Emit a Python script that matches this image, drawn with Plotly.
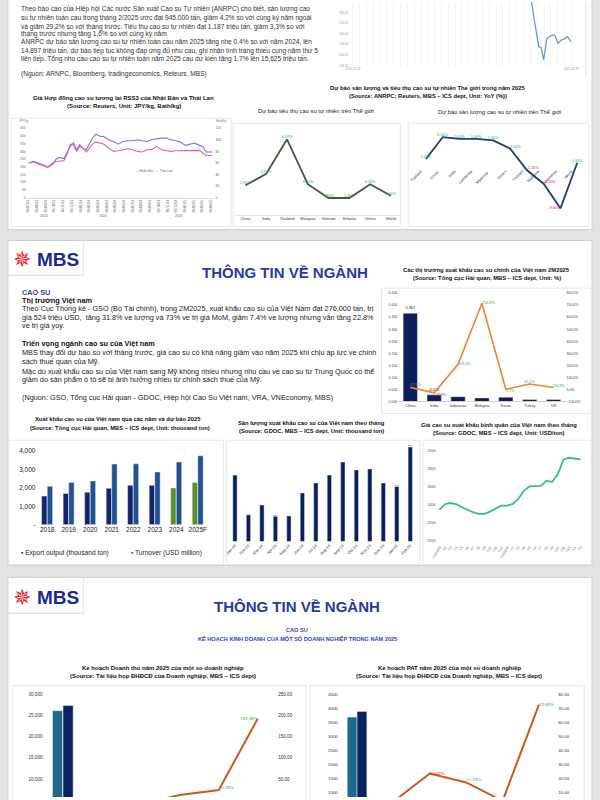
import plotly.graph_objects as go

W, H = 600, 800
FONT = "Liberation Sans, Arial, sans-serif"


def X(px):
    return px / W


def Y(py):
    return 1 - py / H


def dxr(a, b):
    return [max(0.0, X(a)), min(1.0, X(b))]


def dyr(top, bottom):
    return [max(0.0, Y(bottom)), min(1.0, Y(top))]


# ------------------------------------------------------------------ data
# top-right: natural rubber index (only the tail is visible)
idx_dates = ["2020-01-02", "2021-01-25", "2022-02-17", "2023-03-14", "2024-02-27",
             "2024-04-17", "2024-05-13", "2024-05-30", "2024-07-16", "2024-08-06",
             "2024-08-28", "2024-09-26", "2024-11-08", "2024-12-05", "2025-01-03",
             "2025-02-01", "2025-03-01", "2025-03-30", "2025-04-28"]
idx_values = [215, 218, 214, 220, 216, 199, 190, 177.5, 147.8, 146.9,
              135.3, 155.6, 158.8, 158.8, 150.9, 154.0, 155.0, 157.2, 152.5]

# RSS3 futures Japan (JPY/kg) and Thailand (Baht/kg)
rss_dates = ["2023-07-03", "2023-07-20", "2023-08-06", "2023-08-22", "2023-09-08",
             "2023-09-25", "2023-10-06", "2023-10-17", "2023-11-03", "2023-11-14",
             "2023-11-26", "2023-12-07", "2023-12-18", "2023-12-29", "2024-01-09",
             "2024-01-21", "2024-02-01", "2024-02-12", "2024-02-23", "2024-03-11",
             "2024-03-22", "2024-04-08", "2024-04-25", "2024-05-12", "2024-05-28",
             "2024-06-14", "2024-07-01", "2024-07-18", "2024-08-04", "2024-08-20",
             "2024-09-06", "2024-09-23", "2024-10-10", "2024-10-27", "2024-11-12",
             "2024-11-29", "2024-12-16", "2025-01-02", "2025-01-19", "2025-02-04",
             "2025-02-21", "2025-03-04", "2025-03-16", "2025-03-27", "2025-04-07"]
jp_values = [225, 236, 225, 214, 197, 214, 246, 261, 253, 289,
             332, 354, 311, 343, 321, 311, 354, 386, 411, 396,
             396, 375, 364, 347, 364, 369, 369, 375, 369, 364,
             375, 381, 386, 386, 375, 369, 360, 339, 347, 354,
             339, 332, 296, 296, 296]
th_values = [60, 61.7, 58.3, 56, 52.6, 60, 62.9, 62.9, 64, 74.3,
             92.6, 91.4, 80, 88.6, 85.7, 78.9, 86.9, 92.6, 96, 94.3,
             92.6, 85.7, 80, 81.1, 82.9, 84.6, 82.9, 80, 78.9, 82.9,
             82.9, 88.6, 82.9, 81.1, 80, 81.1, 81.1, 81.1, 81.7, 81.1,
             81.7, 77, 73, 73, 73]
rss_years = ["2023", "2024", "2025"]

# world consumption / production forecast 2025 (YoY %)
cons_countries = ["China", "India", "Thailand", "Malaysia", "Vietnam", "Srilanka", "Others", "World"]
cons_values = [2.9, 3.9, 6.9, 3.0, 1.8, 1.8, 3.0, 2.0]
prod_countries = ["Thailand", "China", "India", "Cambodia", "Myanmar", "Others",
                  "Vietnam", "Malaysia", "Indonesia", "World"]
prod_values = [1.2, 6.0, 5.6, 5.6, 5.3, 3.5, -1.2, -4.2, -9.6, 0.4]

# Vietnam export markets 2M2025
mk_names = ["China", "India", "Indonesia", "Malaysia", "Korea", "Turkey", "US"]
mk_share = [0.367, 0.028, 0.020, 0.015, 0.018, 0.008, 0.008]
mk_growth = [17.5, -27.8, 209.0, 716.8, 1.7, 45.2, 16.3]

# Vietnam exports by year
years = ["2018", "2019", "2020", "2021", "2022", "2023", "2024", "2025F"]
export_output = [1560, 1700, 1770, 1980, 2140, 2140, 2000, 2300]
turnover = [2090, 2300, 2380, 3300, 3310, 2870, 3410, 3750]

# monthly exports (thousand ton)
months = ["Jan-24", "Feb-24", "Mar-24", "Apr-24", "May-24", "Jun-24", "Jul-24",
          "Aug-24", "Sep-24", "Oct-24", "Nov-24", "Dec-24", "Jan-25", "Feb-25"]
monthly_exports = [194, 78, 107, 73.6, 75, 142, 171, 194, 232, 209, 212, 171, 160.63, 276]
monthly_labels = ["", "", "", "73.6", "", "", "", "", "", "", "", "", "160.63", "276"]

# average export price (USD/ton)
price_months = ["2023-01", "2023-02", "2023-03", "2023-04", "2023-05", "2023-06", "2023-07",
                "2023-08", "2023-09", "2023-10", "2023-11", "2023-12", "2024-01", "2024-02",
                "2024-03", "2024-04", "2024-05", "2024-06", "2024-07", "2024-08", "2024-09",
                "2024-10", "2024-11", "2024-12", "2025-01", "2025-02"]
price_ticks = ["T1/2023", "T2", "T3", "T4", "T5", "T6", "T7", "T8", "T9", "T10", "T11", "T12",
               "T1/2024", "T2", "T3", "T4", "T5", "T6", "T7", "T8", "T9", "T10", "T11", "T12",
               "T1", "T2"]
price_values = [1343, 1405, 1416, 1405, 1369, 1339, 1314, 1296, 1296, 1321, 1358, 1387, 1387,
                1405, 1460, 1551, 1599, 1599, 1606, 1661, 1650, 1734, 1898, 1916, 1909, 1898]

# business plans 2025
companies = ["GVR", "PHR", "DPR", "TRC", "DRI", "TNC"]
rev_2024 = [26200, 1700, 1300, 480, 620, 80]
rev_2025 = [27400, 1780, 1100, 480, 770, 230]
rev_growth = [-5.0, 4.47, -10.0, 12.0, 23.78, 192.88]
rev_labels = ["", "", "", "", "23.78%", "192.88%"]
pat_2024 = [3700, 450, 300, 150, 60, 40]
pat_2025 = [3900, 470, 370, 175, 62, 69]
pat_growth = [-12.0, 3.5, 23.6, 17.19, 4.0, 72.89]
pat_labels = ["", "", "23.60%", "17.19%", "", "72.89%"]

GREEN_T = "#27b35a"
RED_T = "#e8262b"

fig = go.Figure()

# ---------------------------------------------------------------- traces
fig.add_trace(go.Scatter(x=idx_dates, y=idx_values, mode="lines",
                         line=dict(color="#6b97d6", width=1.3), xaxis="x", yaxis="y"))

fig.add_trace(go.Scatter(x=rss_dates, y=jp_values, mode="lines", name="Nhật Bản",
                         line=dict(color="#7474f2", width=1.1), xaxis="x2", yaxis="y2"))
fig.add_trace(go.Scatter(x=rss_dates, y=th_values, mode="lines", name="Thái Lan",
                         line=dict(color="#ee5d9e", width=1.1), xaxis="x2", yaxis="y3"))

fig.add_trace(go.Scatter(x=cons_countries, y=cons_values, mode="lines+text",
                         text=[f"{v:.2f}%" for v in cons_values], textposition="top center",
                         textfont=dict(size=3.8, color=GREEN_T, family=FONT),
                         line=dict(color="#4b5641", width=1.8), cliponaxis=False,
                         xaxis="x3", yaxis="y4"))

prod_pos = ["top center", "top center", "top center", "top center", "top center",
            "top right", "top right", "top right", "middle left", "top center"]
fig.add_trace(go.Scatter(x=prod_countries, y=prod_values, mode="lines+text",
                         text=[f"{v:.2f}%" for v in prod_values], textposition=prod_pos,
                         textfont=dict(size=3.8, family=FONT,
                                       color=[GREEN_T if v >= 0 else RED_T for v in prod_values]),
                         line=dict(color="#263b7c", width=1.8), cliponaxis=False,
                         xaxis="x4", yaxis="y5"))

fig.add_trace(go.Bar(x=mk_names, y=mk_share, marker_color="#0b1f5c", width=0.6,
                     text=["0.367", "0.028", "", "", "", "", ""], textposition="outside",
                     textfont=dict(size=3.8, color="#222", family=FONT), cliponaxis=False,
                     xaxis="x5", yaxis="y6"))
fig.add_trace(go.Scatter(x=mk_names, y=mk_growth, mode="lines+text",
                         text=[f"{v:.1f}%" for v in mk_growth],
                         textposition=["top right", "bottom right", "middle right", "middle right",
                                       "bottom right", "top center", "top right"],
                         textfont=dict(size=3.8, family=FONT,
                                       color=[GREEN_T if v >= 0 else RED_T for v in mk_growth]),
                         line=dict(color="#f2832f", width=1.6), cliponaxis=False,
                         xaxis="x5", yaxis="y7"))

fig.add_trace(go.Bar(x=years, y=export_output, name="Export output (thousand ton)",
                     marker_color=["#14246a"] * 6 + ["#5b8f2c"] * 2,
                     width=0.25, offset=-0.26, xaxis="x6", yaxis="y8"))
fig.add_trace(go.Bar(x=years, y=turnover, name="Turnover (USD million)",
                     marker_color="#24508f", width=0.25, offset=0.0, xaxis="x6", yaxis="y8"))

fig.add_trace(go.Bar(x=months, y=monthly_exports, marker_color="#0a1f5c", width=0.32,
                     text=monthly_labels, textposition="outside",
                     textfont=dict(size=4.2, color="#333", family=FONT), cliponaxis=False,
                     xaxis="x7", yaxis="y9"))

fig.add_trace(go.Scatter(x=price_months, y=price_values, mode="lines",
                         line=dict(color="#36c07a", width=1.8), xaxis="x8", yaxis="y10"))

fig.add_trace(go.Bar(x=companies, y=rev_2024, marker_color="#1f6a8c", width=0.26, offset=-0.27,
                     xaxis="x9", yaxis="y11"))
fig.add_trace(go.Bar(x=companies, y=rev_2025, marker_color="#0a235f", width=0.26, offset=0.0,
                     xaxis="x9", yaxis="y11"))
fig.add_trace(go.Scatter(x=companies, y=rev_growth, mode="lines+text",
                         text=rev_labels,
                         textposition=["top right", "top right", "top right", "top right",
                                       "top right", "middle left"],
                         textfont=dict(size=4.4, family=FONT, color=GREEN_T),
                         line=dict(color="#c95b1c", width=2), cliponaxis=False,
                         xaxis="x9", yaxis="y12"))

fig.add_trace(go.Bar(x=companies, y=pat_2024, marker_color="#1f6a8c", width=0.27, offset=-0.27,
                     xaxis="x10", yaxis="y13"))
fig.add_trace(go.Bar(x=companies, y=pat_2025, marker_color="#0a235f", width=0.27, offset=0.0,
                     xaxis="x10", yaxis="y13"))
fig.add_trace(go.Scatter(x=companies, y=pat_growth, mode="lines+text",
                         text=pat_labels,
                         textposition=["top right", "top right", "middle right", "top right",
                                       "top right", "middle right"],
                         textfont=dict(size=4.4, family=FONT,
                                       color=[RED_T, GREEN_T, RED_T, GREEN_T, GREEN_T, GREEN_T]),
                         line=dict(color="#c95b1c", width=2), cliponaxis=False,
                         xaxis="x10", yaxis="y14"))

# ---------------------------------------------------------------- axes


def axis(domain, **kw):
    d = dict(domain=domain, showgrid=False, zeroline=False, showline=False, ticks="",
             tickfont=dict(size=4, color="#555", family=FONT), fixedrange=True)
    d.update(kw)
    return d


def tf(s, c="#555"):
    return dict(size=s, color=c, family=FONT)


layout_axes = dict(
    xaxis=axis(dxr(350, 578), anchor="y", type="date", range=["2019-12-01", "2025-05-20"],
               tickvals=["2020-01-02", "2025-04-28"], ticktext=["2020-01-02", "2025-04-28"],
               tickfont=tf(3, "#999"),
               minor=dict(dtick="M2", showgrid=True, gridcolor="#efefef", gridwidth=0.6)),
    yaxis=axis(dyr(0, 64), anchor="x", range=[130, 190], tickvals=[130, 140, 150, 160, 170, 180],
               ticktext=["130.00", "140.00", "150.00", "160.00", "170.00", "180.00"],
               tickfont=tf(3, "#999")),
    xaxis2=axis(dxr(22, 213), anchor="y2", type="date", range=["2023-06-26", "2025-04-14"],
                dtick="M1", tickformat="%d/%m/%y", tickangle=-90, tickfont=tf(3.2, "#666"),
                showline=True, linecolor="#d6d6d6", linewidth=0.8),
    yaxis2=axis(dyr(127, 197), anchor="x2", range=[0, 450], dtick=50, tickfont=tf(3.3, "#666")),
    yaxis3=axis(dyr(127, 197), anchor="x2", overlaying="y2", side="right", range=[0, 120],
                dtick=20, tickfont=tf(3.3, "#666")),
    xaxis3=axis(dxr(234, 403), anchor="y4", type="category", range=[-0.5, 7.5],
                tickfont=tf(3.8, "#333"), showline=True, linecolor="#e6e6e6"),
    yaxis4=axis(dyr(128, 214), anchor="x3", range=[0.35, 7.78], visible=False),
    xaxis4=axis(dxr(419.5, 590.5), anchor="y5", type="category", range=[-0.5, 9.5], visible=False),
    yaxis5=axis(dyr(128, 215), anchor="x4", range=[-11.2, 7.74], visible=False),
    xaxis5=axis(dxr(400, 570), anchor="y6", type="category", range=[-0.5, 6.5],
                tickfont=tf(3.8, "#333"), showline=True, linecolor="#d0d0d0"),
    yaxis6=axis(dyr(293, 402), anchor="x5", range=[0, 0.45], dtick=0.05, tickformat=".3f",
                tickfont=tf(3.5, "#444")),
    yaxis7=axis(dyr(293, 402), anchor="x5", overlaying="y6", side="right", range=[-100, 800],
                dtick=100, tickformat=".1f", ticksuffix="%", tickfont=tf(3.5, "#444")),
    xaxis6=axis(dxr(32, 207), anchor="y8", type="category", range=[-0.5, 7.5],
                tickfont=tf(6.5, "#222")),
    yaxis8=axis(dyr(448, 526), anchor="x6", range=[0, 4216], tickvals=[0, 1000, 2000, 3000, 4000],
                ticktext=["-", "1,000", "2,000", "3,000", "4,000"], tickfont=tf(6.5, "#222")),
    xaxis7=axis(dxr(227, 419), anchor="y9", type="category", range=[-0.5, 13.5], tickangle=-45,
                tickfont=tf(4, "#333")),
    yaxis9=axis(dyr(445, 543), anchor="x7", range=[0, 284], visible=False),
    xaxis8=axis(dxr(439, 588), anchor="y10", type="date", range=["2022-12-17", "2025-02-15"],
                tickvals=price_months, ticktext=price_ticks, tickangle=-60, tickfont=tf(3.6, "#555")),
    yaxis10=axis(dyr(445, 545), anchor="x8", range=[967, 2066],
                 tickvals=[1000, 1200, 1400, 1600, 1800, 2000], tickfont=tf(3.8, "#555")),
    xaxis9=axis(dxr(39.2, 276.8), anchor="y11", type="category", range=[-0.5, 5.5],
                showticklabels=False),
    yaxis11=axis(dyr(690, 800), anchor="x9", range=[5708, 31650],
                 tickvals=[10000, 15000, 20000, 25000, 30000], tickformat=",",
                 tickfont=tf(4.6, "#333")),
    yaxis12=axis(dyr(690, 800), anchor="x9", overlaying="y11", side="right", range=[7.07, 266.5],
                 tickvals=[50, 100, 150, 200, 250], tickformat=".2f", ticksuffix="%",
                 tickfont=tf(4.6, "#333")),
    xaxis10=axis(dxr(339.5, 561.5), anchor="y13", type="category", range=[-0.5, 5.5],
                 showticklabels=False),
    yaxis13=axis(dyr(690, 800), anchor="x10", range=[840, 4749],
                 tickvals=[1000, 1500, 2000, 2500, 3000, 3500, 4000, 4500], tickfont=tf(4.4, "#333")),
    yaxis14=axis(dyr(690, 800), anchor="x10", overlaying="y13", side="right", range=[6.8, 84.97],
                 tickvals=[10, 20, 30, 40, 50, 60, 70, 80], tickformat=".2f", ticksuffix="%",
                 tickfont=tf(4.4, "#333")),
)

# ---------------------------------------------------------------- shapes


def rect(x0, y0, x1, y1, fill="white", line="#dcdcdc", w=1):
    return dict(type="rect", xref="paper", yref="paper", x0=X(x0), x1=X(x1), y0=Y(y1), y1=Y(y0),
                fillcolor=fill, line=dict(color=line, width=w), layer="below")


def seg(x0, y0, x1, y1, color="#d5d5d5", w=1):
    return dict(type="line", xref="paper", yref="paper", x0=X(x0), x1=X(x1), y0=Y(y0), y1=Y(y1),
                line=dict(color=color, width=w), layer="below")


shapes = [
    rect(3, -5, 597, 229, line="#cfcfcf"),
    rect(3, 240, 597, 567, line="#cfcfcf"),
    rect(3, 579, 597, 805, line="#cfcfcf"),
    rect(6, 117, 230, 226, fill="rgba(0,0,0,0)", line="#e8e8e8"),
    rect(232, 122, 402, 226, fill="rgba(0,0,0,0)", line="#e8e8e8"),
    rect(410, 122, 594, 226, fill="rgba(0,0,0,0)", line="#e8e8e8"),
    seg(591, 0, 591, 75, "#e2e2e2"),
    rect(383, 288, 596, 414, fill="rgba(0,0,0,0)", line="#e6e6e6"),
    rect(4, 441, 222, 566, fill="rgba(0,0,0,0)", line="#e6e6e6"),
    rect(225, 441, 422, 566, fill="rgba(0,0,0,0)", line="#e6e6e6"),
    rect(425, 441, 596, 566, fill="rgba(0,0,0,0)", line="#e6e6e6"),
    rect(8, 688, 306, 805, fill="rgba(0,0,0,0)", line="#e6e6e6"),
    rect(310, 688, 589, 805, fill="rgba(0,0,0,0)", line="#e6e6e6"),
    seg(3, 275, 80, 275, "#d8d8d8"), seg(80, 240, 80, 275, "#e4e4e4"),
    seg(3, 615, 80, 615, "#d8d8d8"), seg(80, 579, 80, 615, "#e4e4e4"),
]

# ---------------------------------------------------------------- text
ann = []


def txt(x, y, s, size=6, color="#222", anchor="left", bold=False, **kw):
    d = dict(x=X(x), y=Y(y), xref="paper", yref="paper", text=(f"<b>{s}</b>" if bold else s),
             showarrow=False, xanchor=anchor, yanchor="middle",
             font=dict(size=size, color=color, family=kw.pop("family", FONT)))
    d.update(kw)
    ann.append(d)


top_lines = [
    (7, "Theo báo cáo của Hiệp hội Các nước Sản xuất Cao su Tự nhiên (ANRPC) cho biết, sản lượng cao"),
    (16, "su tự nhiên toàn cầu trong tháng 2/2025 ước đạt 945.000 tấn, giảm 4,2% so với cùng kỳ năm ngoái"),
    (24.5, "và giảm 29,2% so với tháng trước. Tiêu thụ cao su tự nhiên đạt 1,187 triệu tấn, giảm 3,3% so với"),
    (32, "tháng trước nhưng tăng 1,6% so với cùng kỳ năm"),
    (40, "ANRPC dự báo sản lượng cao su tự nhiên toàn cầu năm 2025 tăng nhẹ 0,4% so với năm 2024, lên"),
    (48.5, "14,897 triệu tấn, dự báo tiếp tục không đáp ứng đủ nhu cầu, ghi nhận tình trạng thiếu cung năm thứ 5"),
    (57, "liên tiếp. Tổng nhu cầu cao su tự nhiên toàn năm 2025 cầu dự kiến tăng 1,7% lên 15,625 triệu tấn."),
    (72, "(Nguồn: ARNPC, Bloomberg, tradingeconomics, Reteurs, MBS)"),
]
for yy, s in top_lines:
    txt(14, yy, s, size=6.6, color="#333")

txt(430, 87, "Dự báo sản lượng và tiêu thụ cao su tự nhiên Thế giới trong năm 2025", 5.8, "#111", "center", True)
txt(430, 95, "(Source: ANRPC; Reuters, MBS – ICS dept, Unit: YoY (%))", 5.8, "#111", "center", True)
txt(121, 97, "Giá Hợp đồng cao su tương lai RSS3 của Nhật Bản và Thái Lan", 6, "#111", "center", True)
txt(121, 105, "(Source: Reuters, Unit: JPY/kg, Bath/kg)", 6, "#111", "center", True)
txt(316, 110, "Dự báo tiêu thụ cao su tự nhiên trên Thế giới", 5.8, "#222", "center")
txt(503, 111, "Dự báo sản lượng cao su tự nhiên trên Thế giới", 5.8, "#222", "center")
txt(12, 119.5, "JPY/kg", 3, "#777")
txt(213, 119.5, "Baht/kg", 3, "#777")
txt(130, 170, "<span style='color:#7474f2'>—</span> Nhật Bản  <span style='color:#ee5d9e'>—</span> Thái Lan",
    3.4, "#666")
for xx, s in zip([40, 100, 177], rss_years):
    txt(xx, 215, s, 3.4, "#666", "center")

for c in prod_countries:
    ann.append(dict(x=c, y=0, xref="x4", yref="y5", text=c, showarrow=False, textangle=-45,
                    xanchor="right", yanchor="top", yshift=-2,
                    font=dict(size=3.8, color="#333", family=FONT)))

# growth label of the second company, sitting just above the clipped line
ann.append(dict(x=companies[1], y=rev_growth[1], xref="x9", yref="y12", text=f"{rev_growth[1]:.2f}%",
                showarrow=False, xanchor="left", yanchor="bottom", xshift=2, yshift=5,
                font=dict(size=4.4, color=GREEN_T, family=FONT)))

# MBS logos and headings
for ly in [259, 599]:
    txt(17, ly, "✵", 22, "#e3262f", "center", family="DejaVu Sans")
    txt(30, ly, "MBS", 19, "#1b2a92", "left", True, family="Liberation Sans")

txt(285, 272, "THÔNG TIN VỀ NGÀNH", 15, "#2a37a8", "center", True)
txt(297, 608, "THÔNG TIN VỀ NGÀNH", 15, "#2a37a8", "center", True)

mid_lines = [
    (292, "CAO SU", "#3340aa", True),
    (300, "Thị trường Việt nam", "#111", True),
    (308.5, "Theo Cục Thống kê - GSO (Bộ Tài chính), trong 2M2025, xuất khẩu cao su của Việt Nam đạt 276,000 tấn, trị", "#222", False),
    (317, "giá 524 triệu USD,  tăng 31.8% về lượng và 73% về trị giá MoM, giảm 7.4% về lượng nhưng vẫn tăng 22.8%", "#222", False),
    (325.5, "về trị giá yoy.", "#222", False),
    (344, "Triển vọng ngành cao su của Việt nam", "#111", True),
    (353, "MBS thay đổi dự báo so với tháng trước, giá cao su có khả năng giảm vào năm 2025 khi chịu áp lực về chính", "#222", False),
    (361.5, "sách thuế quan của Mỹ.", "#222", False),
    (371.5, "Mặc dù xuất khẩu cao su của Việt nam sang Mỹ không nhiều nhưng nhu cầu về cao su từ Trung Quốc có thể", "#222", False),
    (380, "giảm do sản phẩm ô tô sẽ bị ảnh hưởng nhiều từ chính sách thuế của Mỹ.", "#222", False),
    (398, "(Nguồn: GSO, Tổng cục Hải quan - GDOC, Hiệp hội Cao Su Việt nam, VRA, VNEconomy, MBS)", "#222", False),
]
for yy, s, col, b in mid_lines:
    txt(15, yy, s, 7.3, col, "left", b)

txt(490, 270, "Các thị trường xuất khẩu cao su chính của Việt nam 2M2025", 5.8, "#111", "center", True)
txt(490, 278, "(Source: Tổng cục Hải quan, MBS – ICS dept, Unit: %)", 5.8, "#111", "center", True)
txt(115, 420, "Xuất khẩu cao su của Việt nam qua các năm và dự báo 2025", 5.8, "#111", "center", True)
txt(117, 429, "(Source: Tổng cục Hải quan, MBS – ICS dept, Unit: thousand ton)", 5.8, "#111", "center", True)
txt(312, 424, "Sản lượng xuất khẩu cao su của Việt nam theo tháng", 5.8, "#111", "center", True)
txt(312, 432, "(Source: GDOC, MBS – ICS dept, Unit: thousand ton)", 5.8, "#111", "center", True)
txt(502, 426, "Giá cao su xuất khẩu bình quân của Việt nam theo tháng", 5.8, "#111", "center", True)
txt(502, 434, "(Source: GDOC, MBS – ICS dept, Unit: USD/ton)", 5.8, "#111", "center", True)
txt(14, 554, "<span style='color:#14246a'>▪</span> Export output (thousand ton)", 6.6, "#222")
txt(126, 554, "<span style='color:#24508f'>▪</span> Turnover (USD million)", 6.6, "#222")

txt(297, 632, "CAO SU", 5.6, "#3344bb", "center", True)
txt(297, 640, "KẾ HOẠCH KINH DOANH CỦA MỘT SỐ DOANH NGHIỆP TRONG NĂM 2025", 5.6, "#3344bb", "center", True)
txt(161, 670, "Kế hoạch Doanh thu năm 2025 của một số doanh nghiệp", 6, "#111", "center", True)
txt(161, 678, "(Source: Tài liệu họp ĐHĐCĐ của Doanh nghiệp, MBS – ICS dept)", 6, "#111", "center", True)
txt(452, 670, "Kế hoạch PAT năm 2025 của một số doanh nghiệp", 6, "#111", "center", True)
txt(452, 678, "(Source: Tài liệu họp ĐHĐCĐ của Doanh nghiệp, MBS – ICS dept)", 6, "#111", "center", True)

fig.update_layout(
    width=W, height=H, margin=dict(l=0, r=0, t=0, b=0),
    paper_bgcolor="#e3e3e3", plot_bgcolor="rgba(0,0,0,0)",
    showlegend=False, hovermode=False, barmode="overlay",
    font=dict(family=FONT), shapes=shapes, annotations=ann,
    **layout_axes,
)

fig.write_html(
    "out.html",
    config={"displayModeBar": False, "staticPlot": True},
    post_script="document.body.style.margin='0';document.body.style.padding='0';"
                "document.body.style.overflow='hidden';",
)
